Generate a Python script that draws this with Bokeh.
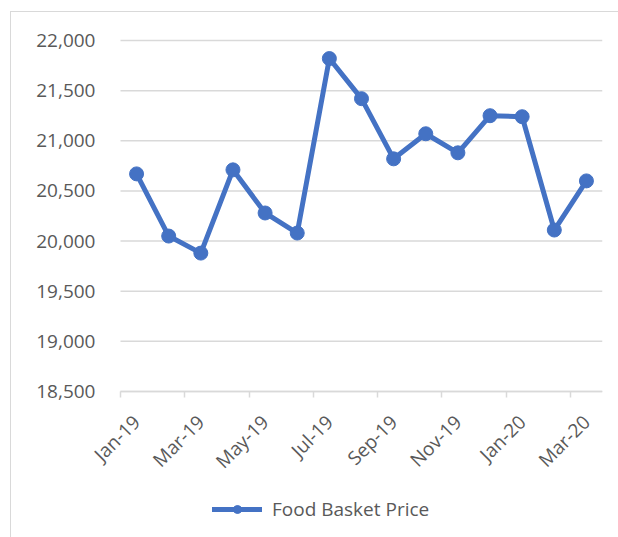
import math
from bokeh.plotting import figure
from bokeh.models import FixedTicker, NumeralTickFormatter, Range1d, Legend, LegendItem
from bokeh.embed import file_html
from bokeh.resources import INLINE

months = ["Jan-19", "Feb-19", "Mar-19", "Apr-19", "May-19", "Jun-19", "Jul-19",
          "Aug-19", "Sep-19", "Oct-19", "Nov-19", "Dec-19", "Jan-20", "Feb-20", "Mar-20"]
prices = [20670, 20050, 19880, 20710, 20280, 20080, 21820,
          21420, 20820, 21070, 20880, 21250, 21240, 20110, 20600]
y_ticks = [18500, 19000, 19500, 20000, 20500, 21000, 21500, 22000]
series_name = "Food Basket Price"

BLUE = "#4472C4"
GRID = "#d9d9d9"
TEXT = "#595959"
FONT = "Open Sans"

# layout (pixels): plot area 120..602 wide, 40..391 tall; axes drawn inside the frame
LEFT_W = 120
TOP_H = 40
PLOT_W = 482
PLOT_H = 351
BELOW_H = 146
n = len(months)
y_span = y_ticks[-1] - y_ticks[0]
y_lo = y_ticks[0] - y_span * BELOW_H / PLOT_H
y_hi = y_ticks[-1] + y_span * TOP_H / PLOT_H
x_lo = -0.5 - LEFT_W * n / PLOT_W

xs = list(range(n))

p = figure(width=618, height=537, output_backend="svg", toolbar_location=None,
           min_border_left=0, min_border_right=16, min_border_top=0, min_border_bottom=0,
           x_range=Range1d(x_lo, n - 0.5), y_range=Range1d(y_lo, y_hi))
p.outline_line_color = None
p.border_fill_color = None
p.background_fill_color = None
p.styles = {"box-shadow": "inset 10px 11px 0 0 white, inset 11px 12px 0 0 #d9d9d9"}

# horizontal gridlines limited to the plot area
p.xgrid.grid_line_color = None
p.ygrid.grid_line_color = None
p.segment(x0=[-0.5] * len(y_ticks), y0=y_ticks, x1=[n - 0.5] * len(y_ticks), y1=y_ticks,
          line_color=GRID, line_width=1.5)

r_line = p.line(xs, prices, line_color=BLUE, line_width=5, line_cap="round", line_join="round")
r_pts = p.scatter(xs, prices, size=14, fill_color=BLUE, line_color=BLUE)

# x axis at the bottom of the value scale; tick marks (minor ticks) at slot boundaries
# every other month, labels at the month centres
tick_pos = [i - 0.5 for i in range(0, n, 2)]
lab_pos = [float(i) for i in range(0, n, 2)]
xa = p.xaxis[0]
xa.fixed_location = y_ticks[0]
xa.bounds = (-0.5, n - 0.5)
xa.ticker = FixedTicker(ticks=lab_pos, minor_ticks=tick_pos)
xa.major_label_overrides = {float(i): months[i] for i in range(0, n, 2)}
xa.major_label_orientation = math.pi / 4
xa.axis_line_color = GRID
xa.axis_line_width = 1.5
xa.major_tick_line_color = None
xa.major_tick_in = 0
xa.major_tick_out = 0
xa.minor_tick_line_color = GRID
xa.minor_tick_line_width = 1.5
xa.minor_tick_in = 0
xa.minor_tick_out = 6
xa.major_label_standoff = 21
xa.major_label_text_font = FONT
xa.major_label_text_font_size = "19px"
xa.major_label_text_color = TEXT

ya = p.yaxis[0]
ya.fixed_location = -0.5
ya.bounds = (y_ticks[0], y_ticks[-1])
ya.ticker = FixedTicker(ticks=y_ticks)
ya.formatter = NumeralTickFormatter(format="0,0")
ya.axis_line_color = None
ya.major_tick_line_color = None
ya.minor_tick_line_color = None
ya.major_tick_in = 0
ya.major_tick_out = 0
ya.major_label_standoff = 25
ya.major_label_text_font = FONT
ya.major_label_text_font_size = "19px"
ya.major_label_text_color = TEXT

legend = Legend(items=[LegendItem(label=series_name, renderers=[r_line, r_pts])],
                location=(212, 15), orientation="horizontal",
                border_line_color=None, background_fill_color=None,
                padding=0, margin=0, glyph_width=50, glyph_height=20,
                label_standoff=10, label_height=20,
                label_text_font=FONT, label_text_font_size="19px", label_text_color=TEXT)
p.add_layout(legend, "center")

open("out.html", "w").write(file_html(p, INLINE))
